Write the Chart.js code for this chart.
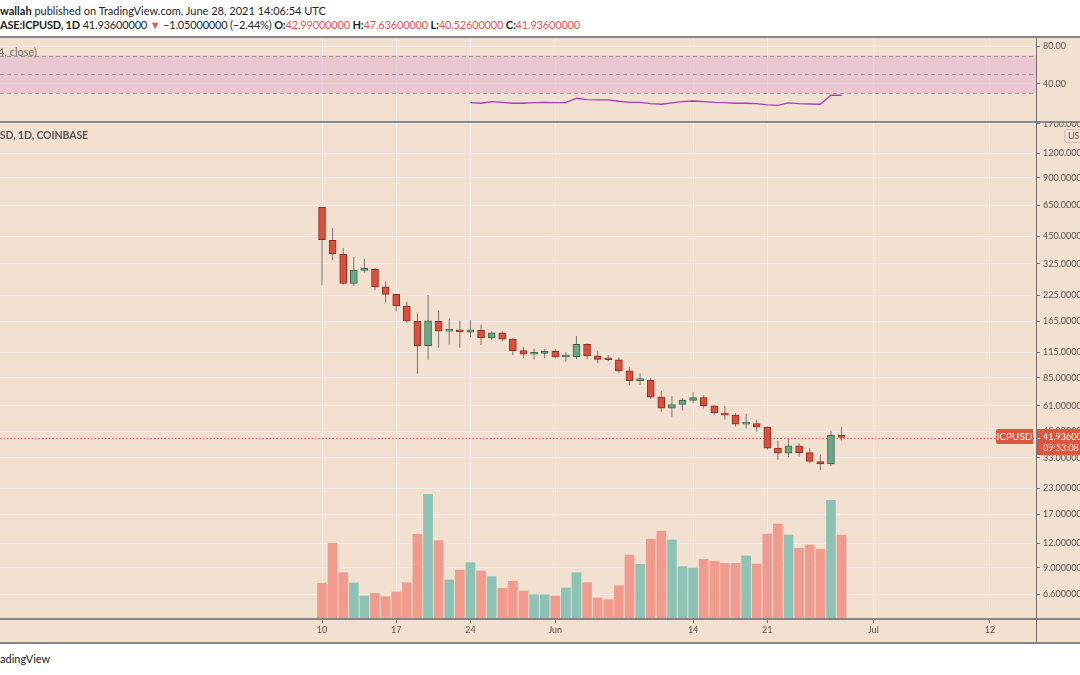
<!DOCTYPE html>
<html><head><meta charset="utf-8">
<script src="https://cdn.jsdelivr.net/npm/chart.js@4.4.1/dist/chart.umd.min.js"></script>
<style>
html,body{margin:0;padding:0;}
body{width:1080px;height:675px;overflow:hidden;position:relative;background:#fff;font-family:Lato,'Open Sans',sans-serif;}
.abs{position:absolute;white-space:nowrap;}
.hdr{left:0;font-size:11px;color:#1e1e1e;line-height:14px;}
.r{color:#ef5350;}
#h2{letter-spacing:-0.18px;}
#panel{left:0;top:36px;width:1080px;height:608px;background:#f2e0d1;border-top:2px solid #868686;border-bottom:2px solid #868686;box-sizing:border-box;}
#sep{left:0;top:121px;width:1080px;height:2px;background:#8a8a8a;}
#xline{left:0;top:618px;width:1080px;height:1.5px;background:#858585;}
#vline{left:1036px;top:37px;width:1px;height:606px;background:#707070;}
canvas{position:absolute;left:0;}
#rsiLbl{right:1043px;top:45px;font-size:11px;color:#6a6a6a;}
#symLbl{right:992px;top:129px;font-size:10.5px;color:#555;font-weight:bold;letter-spacing:-0.1px;}
#usd{left:1064px;top:129px;width:30px;height:12px;border:1px solid #cdbdb5;border-radius:3px;font-size:9px;line-height:12px;color:#555;padding-left:3px;background:#f2e0d1;}
#foot{left:0;top:652px;font-size:11px;color:#222;}
</style></head>
<body>
<div id="h1" class="abs hdr" style="top:4px"><b>wallah</b> published on TradingView.com, June 28, 2021 14:06:54 UTC</div>
<div id="h2" class="abs hdr" style="top:18px"></div>
<div id="panel" class="abs"></div>
<canvas id="rsi" width="1080" height="83" style="top:38px"></canvas>
<canvas id="price" width="1080" height="520" style="top:123px"></canvas>
<div id="sep" class="abs"></div>
<div id="xline" class="abs"></div>
<div id="vline" class="abs"></div>
<div id="rsiLbl" class="abs">RSI (14, close)</div>
<div id="symLbl" class="abs">ICPUSD, 1D, COINBASE</div>
<div id="usd" class="abs">USD</div>
<div id="foot" class="abs">adingView</div>
<script>
// ---------- data ----------
const dates = ['May 10','May 11','May 12','May 13','May 14','May 15','May 16','May 17','May 18','May 19',
 'May 20','May 21','May 22','May 23','May 24','May 25','May 26','May 27','May 28','May 29','May 30','May 31',
 'Jun 1','Jun 2','Jun 3','Jun 4','Jun 5','Jun 6','Jun 7','Jun 8','Jun 9','Jun 10','Jun 11','Jun 12','Jun 13',
 'Jun 14','Jun 15','Jun 16','Jun 17','Jun 18','Jun 19','Jun 20','Jun 21','Jun 22','Jun 23','Jun 24','Jun 25',
 'Jun 26','Jun 27','Jun 28'];
const opens  = [633,430,364,258,301,305,248,227,198,165,124,165,147,148,145.5,148.5,136,144,134,117,112,113,
 116,108.4,109,126,110,105.5,105,92,82,82.5,67.5,59.3,61.9,65,67.2,61,56,54.6,49.1,49.5,47.5,37,34.9,38,35.1,
 31.6,30.7,42.99];
const highs  = [636,496,392,353,346,310,265,228,208,181,225,188,171,167,166,159,147,147,136,122,120,119,
 119,115,139,127,116.8,111,108,96,89.5,84.6,72.9,68.5,66.8,71.6,69.3,61.3,61,56,55.5,51.7,47.8,40.5,41.1,39.2,37,
 34.2,45.4,47.636];
const lows   = [253,339,255,251,294,238,206,186,162,89,105,121,126,121,137,125,132.5,130,111,107,105.6,107,
 106.6,102.6,105.6,105.6,100.7,103,89.5,77.7,78,66,56.6,53.7,57.7,62.9,59.3,54.8,51.7,47.7,46.7,44.9,36.3,32.3,
 33.3,33.5,31,28.5,30,40.526];
const closes = [433,367,258,302,306,248,227,198,166,124,166,147,148,146,149.5,136,144,134,117,112,113,116,
 108.4,109,126,110,105.5,105,92,82,82.5,67.5,59.3,61.9,65,67.2,61,56,54.6,49.1,49.5,47.5,37,34.9,38,35.1,31.6,
 30.7,42.986,41.936];
const volumes = [357,757,463,360,230,257,223,270,363,847,1247,783,390,490,563,480,423,307,377,280,243,243,
 230,310,463,363,210,193,333,640,547,797,880,790,523,510,597,577,557,557,630,550,850,950,840,707,740,697,1187,840];
const rsiStart = 14;
const rsiValues = [20.0,19.4,21.1,20.4,19.4,19.4,20.0,20.4,20.0,20.0,24.7,23.2,22.9,22.9,21.5,20.4,20.4,18.9,
 18.3,19.7,21.1,21.8,21.1,20.4,20.0,19.4,19.4,18.9,17.6,17.2,19.7,18.9,18.6,18.3,27.9,27.9];
const priceTicks = [6.6,9,12,17,23,33,45,61,85,115,165,225,325,450,650,900,1200,1700];
const rsiTicks = [40,80];
const rsiUpper = 70, rsiMiddle = 50, rsiLower = 30;
const xTickDays = [0,7,14,22,35,42,52,63];
const xTickLabels = ['10','17','24','Jun','14','21','Jul','12'];
const symbol = 'ICPUSD';
const countdown = '09:53:08';

// ---------- header ----------
const n = closes.length;
const lastC = closes[n-1], prevC = closes[n-2];
const chg = lastC - prevC, pct = chg / prevC * 100;
const fmt = v => v.toFixed(8).replace('-', '\u2212');
document.getElementById('h2').innerHTML =
 '<b>ASE:ICPUSD, 1D</b> ' + lastC.toFixed(8) + ' <span class="r">\u25BC</span> ' + fmt(chg) +
 ' (' + pct.toFixed(2).replace('-', '\u2212') + '%) ' +
 '<b>O:</b><span class="r">' + opens[n-1].toFixed(8) + '</span> ' +
 '<b>H:</b><span class="r">' + highs[n-1].toFixed(8) + '</span> ' +
 '<b>L:</b><span class="r">' + lows[n-1].toFixed(8) + '</span> ' +
 '<b>C:</b><span class="r">' + lastC.toFixed(8) + '</span>';

// ---------- styles ----------
const FONT = 'Lato';
const GRID = 'rgba(240,240,246,0.75)';
const TXT = '#555';
const RED_BODY = '#d9503c', RED_BORDER = '#8e2d20';
const GREEN_BODY = '#6ba785', GREEN_BORDER = '#2f6a4b';
const WICK = '#747474';
const VOL_RED = '#f19b8f', VOL_GREEN = '#8cc3b4';
const X_MIN = -30.37, X_MAX = 67.34;
const up = i => closes[i] >= opens[i];

Chart.defaults.font.family = FONT;
Chart.defaults.animation = false;

const xAxis = (showTicks) => ({
  type: 'linear', min: X_MIN, max: X_MAX, offset: false,
  afterBuildTicks: a => { a.ticks = xTickDays.map(v => ({value: v})); },
  afterFit: s => { s.height = showTicks ? 24 : 0; s.paddingLeft = 0; s.paddingRight = 0; },
  ticks: { display: showTicks, autoSkip: false, maxRotation: 0, color: TXT, font: {size: 9},
           padding: 2, callback: (v, i) => xTickLabels[i] },
  grid: { offset: false, color: GRID, drawTicks: showTicks, tickLength: 4, tickColor: '#777' },
  border: { display: false }
});

// ---------- RSI chart ----------
const rsiBand = {
  id: 'rsiBand',
  beforeDatasetsDraw(chart) {
    const {ctx, chartArea: a, scales: {y}} = chart;
    const yu = y.getPixelForValue(rsiUpper), yl = y.getPixelForValue(rsiLower), ym = y.getPixelForValue(rsiMiddle);
    ctx.save();
    ctx.fillStyle = 'rgba(222,170,205,0.45)';
    ctx.fillRect(a.left, yu, a.right - a.left, yl - yu);
    ctx.strokeStyle = '#a09aa0'; ctx.lineWidth = 1; ctx.setLineDash([4, 3]);
    [yu, ym, yl].forEach(p => { ctx.beginPath(); ctx.moveTo(a.left, Math.round(p)+0.5); ctx.lineTo(a.right, Math.round(p)+0.5); ctx.stroke(); });
    ctx.restore();
  }
};
new Chart(document.getElementById('rsi'), {
  type: 'line',
  data: { datasets: [{
    data: rsiValues.map((v, i) => ({x: rsiStart + i, y: v})),
    borderColor: '#a23fbe', borderWidth: 1.3, pointRadius: 0, tension: 0
  }]},
  options: {
    responsive: false, maintainAspectRatio: false,
    layout: { padding: 0 },
    plugins: { legend: {display: false}, tooltip: {enabled: false} },
    scales: {
      x: xAxis(false),
      y: { position: 'right', min: 0.5, max: 88.8,
        afterBuildTicks: a => { a.ticks = rsiTicks.map(v => ({value: v})); },
        afterFit: s => { s.width = 44; s.paddingTop = 0; s.paddingBottom = 0; },
        ticks: { color: TXT, font: {size: 9}, padding: 3, autoSkip: false, callback: v => Number(v).toFixed(2) },
        grid: { color: GRID, tickLength: 4, tickColor: '#777' },
        border: { display: false } }
    }
  },
  plugins: [rsiBand]
});

// ---------- Price chart ----------
const lastLabel = {
  id: 'lastLabel',
  beforeDatasetsDraw(chart) {
    const {ctx, chartArea: a, scales: {y}} = chart;
    const py = Math.round(y.getPixelForValue(lastC)) + 0.5;
    ctx.save();
    ctx.strokeStyle = '#e4563f'; ctx.lineWidth = 1; ctx.setLineDash([1.5, 2]);
    ctx.beginPath(); ctx.moveTo(a.left, py); ctx.lineTo(a.right, py); ctx.stroke();
    ctx.restore();
  },
  afterDraw(chart) {
    const {ctx, chartArea: a, scales: {y}} = chart;
    const py = y.getPixelForValue(lastC);
    ctx.save();
    ctx.fillStyle = '#dd5640';
    ctx.fillRect(a.right, py - 8.5, 1080 - a.right, 26);
    ctx.beginPath();
    if (ctx.roundRect) ctx.roundRect(a.right - 40, py - 8.5, 37, 15, [2, 0, 0, 2]); else ctx.rect(a.right - 40, py - 8.5, 37, 15);
    ctx.fill();
    ctx.strokeStyle = '#fff'; ctx.lineWidth = 1;
    ctx.beginPath(); ctx.moveTo(a.right, Math.round(py)+0.5); ctx.lineTo(a.right + 4, Math.round(py)+0.5); ctx.stroke();
    ctx.font = '10px ' + FONT; ctx.fillStyle = '#fff'; ctx.textAlign = 'center'; ctx.textBaseline = 'middle';
    ctx.fillText(symbol, a.right - 21.5, py - 1);
    ctx.font = '9px ' + FONT; ctx.textAlign = 'left';
    ctx.fillText(lastC.toFixed(8), a.right + 7, py);
    ctx.fillStyle = '#fbe1da';
    ctx.fillText(countdown, a.right + 7, py + 11);
    ctx.restore();
  }
};

new Chart(document.getElementById('price'), {
  type: 'bar',
  data: { datasets: [
    { label: 'Volume', yAxisID: 'yVol', order: 3, grouped: false, barThickness: 9,
      data: volumes.map((v, i) => ({x: i, y: v})),
      backgroundColor: c => up(c.dataIndex) ? VOL_GREEN : VOL_RED },
    { label: 'Wick', yAxisID: 'y', order: 2, grouped: false, barThickness: 1, inflateAmount: 0,
      data: lows.map((v, i) => ({x: i, y: [lows[i], highs[i]]})),
      backgroundColor: WICK },
    { label: 'Body', yAxisID: 'y', order: 1, grouped: false, barThickness: 7, minBarLength: 2,
      data: opens.map((v, i) => ({x: i, y: [opens[i], closes[i]]})),
      backgroundColor: c => up(c.dataIndex) ? GREEN_BODY : RED_BODY,
      borderColor: c => up(c.dataIndex) ? GREEN_BORDER : RED_BORDER,
      borderWidth: 1, borderSkipped: false }
  ]},
  options: {
    responsive: false, maintainAspectRatio: false,
    layout: { padding: 0 },
    plugins: { legend: {display: false}, tooltip: {enabled: false} },
    scales: {
      x: xAxis(true),
      y: { type: 'logarithmic', position: 'right', min: 4.93, max: 1714,
        afterBuildTicks: a => { a.ticks = priceTicks.map(v => ({value: v})); },
        afterFit: s => { s.width = 44; s.paddingTop = 0; s.paddingBottom = 0; },
        ticks: { color: TXT, font: {size: 9}, padding: 3, autoSkip: false, callback: v => Number(v).toFixed(8) },
        grid: { color: GRID, tickLength: 4, tickColor: '#777' },
        border: { display: false } },
      yVol: { type: 'linear', display: false, min: 0, max: 4960 }
    }
  },
  plugins: [lastLabel]
});
</script>
</body></html>
